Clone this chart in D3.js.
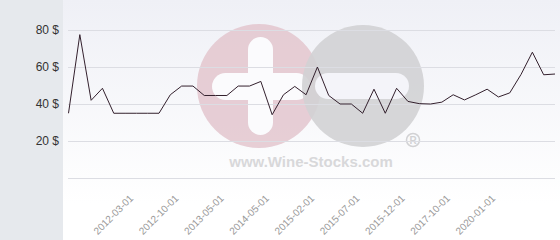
<!DOCTYPE html>
<html>
<head>
<meta charset="utf-8">
<script src="https://cdn.jsdelivr.net/npm/d3@7/dist/d3.min.js"></script>
<style>
  html, body { margin: 0; padding: 0; background: #fff; }
  svg { display: block; font-family: "Liberation Sans", Arial, sans-serif; }
</style>
</head>
<body>
<svg width="560" height="240"></svg>
<script>
// prices in $, one per sample (equally spaced on the axis)
const prices = [35, 77.5, 42, 48.5, 35, 35, 35, 35, 35, 45, 49.7, 49.7, 44.6, 44.6, 44.6,
  49.7, 49.7, 52.2, 34.2, 45, 49.5, 45, 60, 44.6, 40, 40, 35, 48, 35, 48.5, 41.4, 40.2,
  40, 41, 45, 42.2, 45, 48, 43.8, 46, 56, 68, 55.8, 56.2];
// which samples carry a date label
const tickIndex = [6, 10, 14, 18, 22, 26, 30, 34, 38];
const tickLabels = ['2012-03-01', '2012-10-01', '2013-05-01', '2014-05-01', '2015-02-01',
  '2015-07-01', '2015-12-01', '2017-10-01', '2020-01-01'];
const yTicks = [0, 20, 40, 60, 80];

const svg = d3.select('svg');
const width = 560, height = 240;
const panelW = 63;

// background: grey side panel + soft gradient plot
const defs = svg.append('defs');
const grad = defs.append('linearGradient').attr('id', 'bg').attr('x1', 0).attr('y1', 0).attr('x2', 0).attr('y2', 1);
grad.append('stop').attr('offset', '0%').attr('stop-color', '#eff0f6');
grad.append('stop').attr('offset', '85%').attr('stop-color', '#ffffff');
svg.append('rect').attr('width', panelW).attr('height', height).attr('fill', '#e6e9ed');
svg.append('rect').attr('x', panelW).attr('width', width - panelW).attr('height', height).attr('fill', 'url(#bg)');

const x = d3.scalePoint().domain(d3.range(prices.length)).range([68.5, 555]);
const y = d3.scaleLinear().domain([0, 80]).range([178, 30]);

// watermark
const wm = svg.append('g').attr('class', 'watermark');
wm.append('circle').attr('cx', 259).attr('cy', 86).attr('r', 62).attr('fill', '#e3c6ce').attr('opacity', 0.85);
wm.append('rect').attr('x', 248).attr('y', 37).attr('width', 25).attr('height', 98).attr('rx', 12.5).attr('fill', '#fbfbfd');
wm.append('rect').attr('x', 212).attr('y', 73).attr('width', 98).attr('height', 27).attr('rx', 13.5).attr('fill', '#fbfbfd');
wm.append('circle').attr('cx', 363).attr('cy', 86).attr('r', 61).attr('fill', '#d2d2d4').attr('opacity', 0.9);
wm.append('rect').attr('x', 315).attr('y', 73).attr('width', 94).attr('height', 26).attr('rx', 13).attr('fill', '#f4f4f9');
wm.append('text').attr('x', 311).attr('y', 167).attr('text-anchor', 'middle')
  .attr('font-size', 15).attr('font-weight', 'bold').attr('fill', '#d8d8da')
  .text('www.Wine-Stocks.com');
wm.append('circle').attr('cx', 413).attr('cy', 140).attr('r', 6.5).attr('fill', 'none').attr('stroke', '#d2d2d4').attr('stroke-width', 1.5);
wm.append('text').attr('x', 413).attr('y', 144).attr('text-anchor', 'middle')
  .attr('font-size', 10).attr('font-weight', 'bold').attr('fill', '#d2d2d4').text('R');

// grid + y labels
svg.append('g').selectAll('line').data(yTicks).enter().append('line')
  .attr('x1', 68).attr('x2', 555)
  .attr('y1', d => y(d) + 0.5).attr('y2', d => y(d) + 0.5)
  .attr('stroke', '#dcdde3').attr('stroke-width', 1);

svg.append('g').selectAll('text').data(yTicks.filter(d => d > 0)).enter().append('text')
  .attr('x', 59).attr('y', d => y(d)).attr('dy', '0.35em')
  .attr('text-anchor', 'end').attr('font-size', 12).attr('fill', '#333')
  .text(d => d + ' $');

// x labels
svg.append('g').selectAll('text').data(tickIndex).enter().append('text')
  .attr('transform', (d, i) => 'translate(' + (x(d) - 2.5) + ',199) rotate(-45)')
  .attr('text-anchor', 'end').attr('font-size', 10).attr('fill', '#999')
  .text((d, i) => tickLabels[i]);

// price line
const line = d3.line().x((d, i) => x(i)).y(d => y(d));
svg.append('path').datum(prices)
  .attr('d', line)
  .attr('fill', 'none')
  .attr('stroke', '#33202d')
  .attr('stroke-width', 1);
</script>
</body>
</html>
